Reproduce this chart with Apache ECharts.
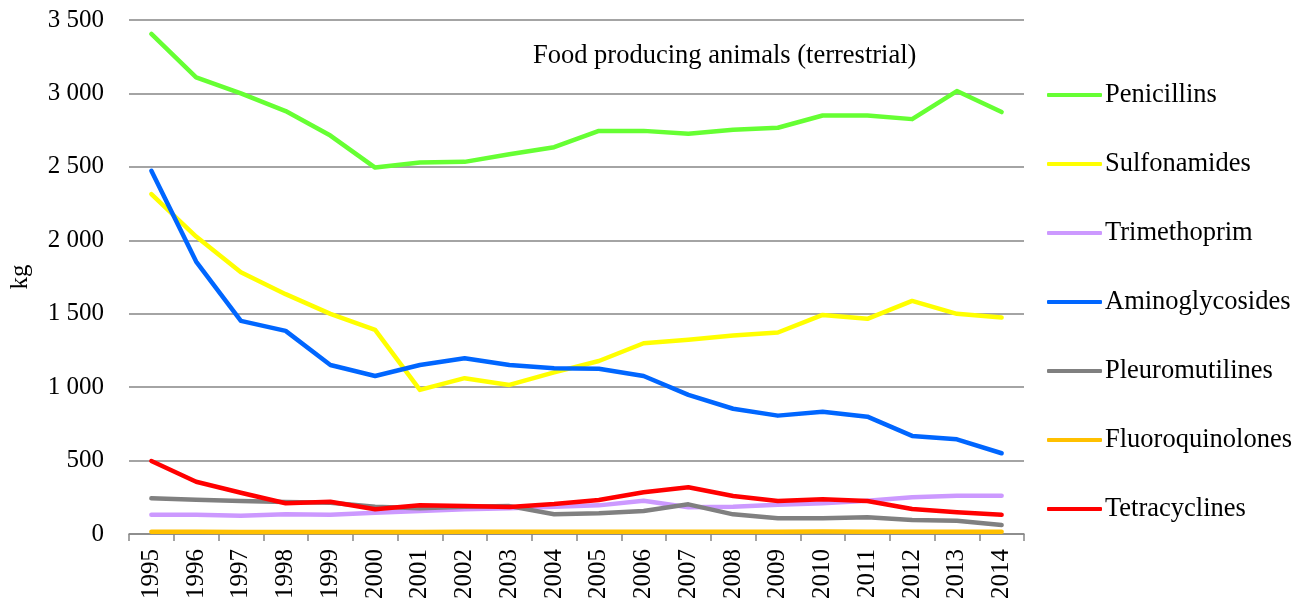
<!DOCTYPE html>
<html>
<head>
<meta charset="utf-8">
<script src="https://cdn.jsdelivr.net/npm/echarts@6/dist/echarts.min.js"></script>
<style>html,body{margin:0;padding:0;background:#fff}#c{width:1302px;height:608px}</style>
</head>
<body>
<div id="c"></div>
<script>
const years = ['1995','1996','1997','1998','1999','2000','2001','2002','2003','2004','2005','2006','2007','2008','2009','2010','2011','2012','2013','2014'];
const yTicks = [0, 500, 1000, 1500, 2000, 2500, 3000, 3500];
const penicillins = [3405, 3110, 3000, 2880, 2713, 2495, 2529, 2534, 2586, 2634, 2745, 2745, 2725, 2752, 2766, 2850, 2850, 2825, 3016, 2873];
const sulfonamides = [2314, 2025, 1782, 1633, 1499, 1390, 981, 1061, 1015, 1100, 1178, 1299, 1322, 1351, 1372, 1492, 1465, 1587, 1499, 1474];
const trimethoprim = [131, 131, 125, 134, 131, 145, 157, 168, 175, 186, 195, 227, 182, 186, 200, 209, 227, 250, 261, 261];
const aminoglycosides = [2473, 1855, 1451, 1383, 1151, 1076, 1151, 1197, 1151, 1129, 1125, 1076, 947, 853, 806, 833, 799, 668, 645, 550];
const pleuromutilines = [243, 234, 225, 218, 213, 185, 175, 185, 190, 135, 141, 157, 202, 134, 107, 107, 114, 95, 91, 61];
const fluoroquinolones = [15, 15, 14, 14, 14, 14, 14, 15, 15, 15, 15, 15, 15, 15, 15, 17, 16, 15, 15, 15];
const tetracyclines = [497, 356, 281, 209, 220, 168, 195, 191, 184, 204, 232, 284, 318, 259, 225, 236, 225, 170, 148, 131];

const names = ['Penicillins','Sulfonamides','Trimethoprim','Aminoglycosides','Pleuromutilines','Fluoroquinolones','Tetracyclines'];
const colors = ['#66FF33','#FFFF00','#CC99FF','#0066FF','#808080','#FFC000','#FF0000'];
const dataSets = [penicillins, sulfonamides, trimethoprim, aminoglycosides, pleuromutilines, fluoroquinolones, tetracyclines];

const FONT = '"Liberation Serif", "Times New Roman", serif';
const chart = echarts.init(document.getElementById('c'));
chart.setOption({
  animation: false,
  backgroundColor: '#fff',
  textStyle: { fontFamily: FONT },
  title: {
    text: 'Food producing animals (terrestrial)',
    left: 528, top: 38,
    textStyle: { fontFamily: FONT, fontSize: 26.5, fontWeight: 'normal', color: '#000' }
  },
  grid: { left: 128, right: 278, top: 20, bottom: 74 },
  legend: {
    orient: 'vertical',
    left: 1042, top: 75,
    itemWidth: 55, itemHeight: 4,
    itemGap: 39,
    icon: 'roundRect',
    textStyle: { fontFamily: FONT, fontSize: 26.5, color: '#000', lineHeight: 30, padding: [0,0,0,-2] },
    data: names
  },
  xAxis: {
    type: 'category',
    data: years,
    boundaryGap: true,
    axisLine: { lineStyle: { color: '#868686', width: 1.5 } },
    axisTick: { show: true, length: 7, lineStyle: { color: '#868686', width: 1.5 } },
    axisLabel: { rotate: 90, margin: 15, fontFamily: FONT, fontSize: 25, color: '#000', interval: 0 }
  },
  yAxis: {
    type: 'value',
    min: yTicks[0], max: yTicks[yTicks.length - 1], interval: 500,
    name: 'kg', nameLocation: 'middle', nameGap: 96,
    nameTextStyle: { fontFamily: FONT, fontSize: 25, color: '#000' },
    axisLine: { show: false },
    axisTick: { show: false },
    splitLine: { lineStyle: { color: '#868686', width: 1.5 } },
    axisLabel: {
      margin: 25, fontFamily: FONT, fontSize: 25, color: '#000',
      formatter: v => String(v).replace(/\B(?=(\d{3})+(?!\d))/g, ' ')
    }
  },
  series: names.map((n, i) => ({
    name: n, type: 'line', data: dataSets[i],
    showSymbol: false, symbol: 'none',
    lineStyle: { color: colors[i], width: 4.5, cap: 'round', join: 'round' },
    itemStyle: { color: colors[i] }
  }))
});
</script>
</body>
</html>
